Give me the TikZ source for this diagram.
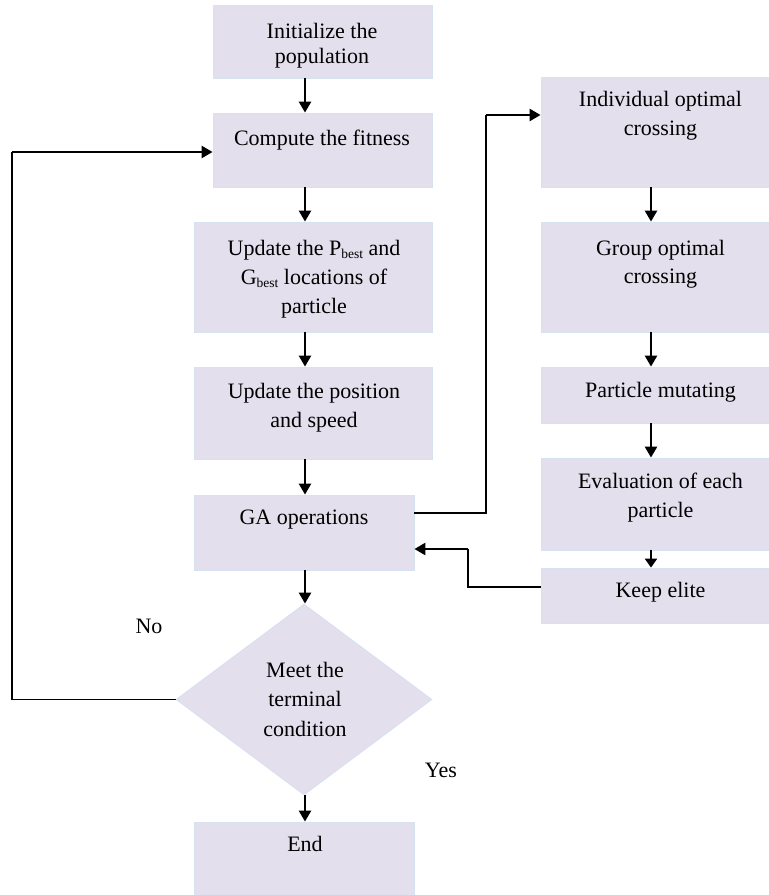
\documentclass[tikz,border=0pt]{standalone}
\usepackage{fontspec}
\setmainfont{Liberation Serif}
\usetikzlibrary{arrows.meta,shapes.geometric}
\definecolor{boxfill}{RGB}{227,223,236}
\definecolor{boxline}{RGB}{214,226,240}
\newcommand{\sbest}{\raisebox{-3.5pt}{\fontsize{13.5}{14}\selectfont best}}
\newcommand{\tp}{\rule{0pt}{16pt}}
\begin{document}
\begin{tikzpicture}[x=1pt,y=-1pt,
  box/.style={draw=boxline, line width=0.8pt, fill=boxfill, inner sep=0pt},
  txt/.style={anchor=north, inner sep=0pt, align=center, font=\fontsize{22}{29}\selectfont},
  arr/.style={line width=2.4pt, -{Triangle[length=11pt,width=12pt]}},
  conn/.style={line width=1.5pt}]
\useasboundingbox (0,0) rectangle (769,895);
% left column boxes
\node[box, minimum width=219pt, minimum height=73pt] (b1) at (322.5,41.5) {};
\node[box, minimum width=219pt, minimum height=74pt] (b2) at (322.5,150) {};
\node[box, minimum width=238pt, minimum height=110pt] (b3) at (313,277) {};
\node[box, minimum width=238pt, minimum height=92pt] (b4) at (313,413) {};
\node[box, minimum width=220pt, minimum height=75pt] (b5) at (304,532.5) {};
\node[box, diamond, minimum width=256pt, minimum height=191pt] (dia) at (304,699.5) {};
\node[box, minimum width=220pt, minimum height=73pt] (end) at (304,858.5) {};
% right column boxes
\node[box, minimum width=228pt, minimum height=110pt] (A) at (655,132) {};
\node[box, minimum width=228pt, minimum height=110pt] (B) at (655,277) {};
\node[box, minimum width=228pt, minimum height=56pt] (C) at (655,395) {};
\node[box, minimum width=228pt, minimum height=92pt] (D) at (655,504) {};
\node[box, minimum width=228pt, minimum height=55pt] (E) at (655,595.5) {};
% texts
\node[txt, font=\fontsize{22}{25.5}\selectfont] (t1) at (322,22) {\tp Initialize the\\population};
\node[txt] (t2) at (322,129) {\tp Compute the fitness};
\node[txt] (t3) at (314,239) {\tp Update the P\sbest{} and\\G\sbest{} locations of\\particle};
\node[txt] (t4) at (314,382) {\tp Update the position\\and speed};
\node[txt] (t5) at (304,508) {\tp GA operations};
\node[txt, font=\fontsize{22}{29.5}\selectfont] (td) at (305,661) {\tp Meet the\\terminal\\condition};
\node[txt] (te) at (305,835) {\tp End};
\node[txt] (tA) at (660.5,90) {\tp Individual optimal\\crossing};
\node[txt, font=\fontsize{22}{28}\selectfont] (tB) at (660.5,239) {\tp Group optimal\\crossing};
\node[txt] (tC) at (660.5,381) {\tp Particle mutating};
\node[txt] (tD) at (660.5,472) {\tp Evaluation of each\\particle};
\node[txt] (tE) at (660.5,581) {\tp Keep elite};
\node[txt] (no) at (149,617) {\tp No};
\node[txt] (yes) at (441,761) {\tp Yes};
% column arrows
\coordinate (ax) at (305,0);
\coordinate (rx) at (651,0);
\draw[arr] (b1.south -| ax) -- (b2.north -| ax);
\draw[arr] (b2.south -| ax) -- (b3.north -| ax);
\draw[arr] (b3.south -| ax) -- (b4.north -| ax);
\draw[arr] (b4.south -| ax) -- (b5.north -| ax);
\draw[arr] (b5.south -| ax) -- (dia.north -| ax);
\draw[arr] (dia.south -| ax) -- (end.north -| ax);
\draw[arr] (A.south -| rx) -- (B.north -| rx);
\draw[arr] (B.south -| rx) -- (C.north -| rx);
\draw[arr] (C.south -| rx) -- (D.north -| rx);
\draw[line width=2.4pt, -{Triangle[length=9pt,width=12pt]}] (D.south -| rx) -- (E.north -| rx);
% GA -> individual optimal crossing
\coordinate (g1) at (486,513);
\coordinate (g2) at (486,115);
\draw[conn] (b5.east |- g1) -- (g1) -- (g2);
\draw[arr] (g2) -- (A.west |- g2);
% keep elite -> GA
\coordinate (k1) at (468,587);
\coordinate (k2) at (468,549);
\draw[conn] (E.west |- k1) -- (k1) -- (k2);
\draw[arr] (k2) -- (b5.east |- k2);
% No loop
\coordinate (n2) at (12,152);
\draw[conn] (dia.west) -| (n2);
\draw[arr] (n2) -- (b2.west |- n2);
\end{tikzpicture}
\end{document}
